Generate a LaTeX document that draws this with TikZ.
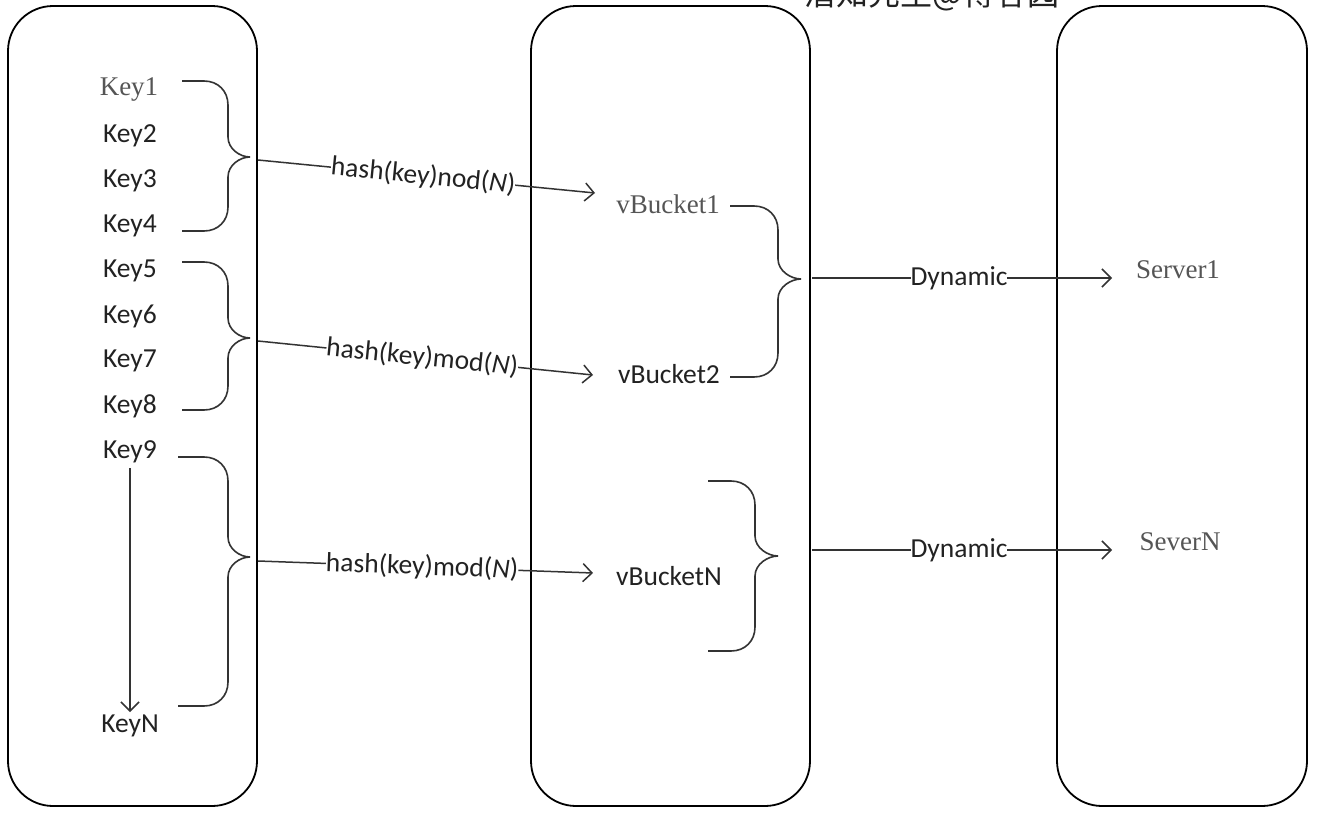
\documentclass[tikz,border=0pt]{standalone}
\usepackage{fontspec}
\setmainfont{Carlito}
\newfontfamily\seriffont{Liberation Serif}
\newfontfamily\cjkfont{Noto Sans CJK SC}
\usetikzlibrary{arrows.meta}
\definecolor{ink}{HTML}{222222}
\definecolor{soft}{HTML}{555555}
\definecolor{lineink}{HTML}{333333}
\tikzset{
  column/.style={draw=black, line width=1.8pt, rounded corners=45pt},
  sanslabel/.style={text=ink, font=\fontsize{27.5}{32}\selectfont, inner sep=1pt},
  seriflabel/.style={text=soft, font=\seriffont\fontsize{27}{31}\selectfont, inner sep=1pt},
  brace/.style={draw=lineink, line width=1.6pt},
  flow/.style={draw=lineink, line width=1.5pt, -{Straight Barb[length=9pt,width=18pt,line width=1.5pt]}},
  tag/.style={sanslabel, fill=white, inner sep=0pt},
}
\newcommand\bracket[6]{%
  \draw[brace] (#1,#4) -- (#2-24,#4) .. controls (#2-10,#4) and (#2,#4+10) .. (#2,#4+24)
   -- (#2,#5-20) .. controls (#2,#5-8) and (#3-10,#5) .. (#3,#5)
   .. controls (#3-10,#5) and (#2,#5+8) .. (#2,#5+20)
   -- (#2,#6-24) .. controls (#2,#6-10) and (#2-10,#6) .. (#2-24,#6) -- (#1,#6);}
\begin{document}
\begin{tikzpicture}[x=1pt,y=-1pt]
\useasboundingbox (0,0) rectangle (1320,814);
\clip (0,0) rectangle (1320,814);
\fill[white] (0,0) rectangle (1320,814);

% watermark (cut off at top, as in the reference)
\node[anchor=base, text=ink, font=\cjkfont\fontsize{32}{36}\selectfont, inner sep=0pt] (mark) at (932,5) {潜知先生@博客园};

% columns
\draw[column] (8,6) rectangle (257,806);
\draw[column] (531,6) rectangle (810,806);
\draw[column] (1057,6) rectangle (1307,806);

% keys
\node[seriflabel] (k1) at (129,89) {Key1};
\node[sanslabel] (k2) at (130,136) {Key2};
\node[sanslabel] (k3) at (130,181) {Key3};
\node[sanslabel] (k4) at (130,226) {Key4};
\node[sanslabel] (k5) at (130,271) {Key5};
\node[sanslabel] (k6) at (130,316) {Key6};
\node[sanslabel] (k7) at (130,361) {Key7};
\node[sanslabel] (k8) at (130,406) {Key8};
\node[sanslabel] (k9) at (130,452) {Key9};
\node[sanslabel] (kn) at (130,726) {KeyN};
\draw[flow] (k9.south) ++(0,4) coordinate (k9b) -- (130,712) coordinate (knt);

% buckets
\node[seriflabel] (b1) at (668,204) {vBucket1};
\node[sanslabel] (b2) at (669,374) {vBucket2};
\node[sanslabel] (bn) at (669,576) {vBucketN};

% servers
\node[seriflabel] (s1) at (1178,270) {Server1};
\node[seriflabel] (sn) at (1180,542) {SeverN};

% braces
\bracket{182}{228}{250}{81}{157}{231}
\bracket{182}{228}{250}{262}{338}{410}
\bracket{178}{228}{250}{457}{557}{706}
\bracket{730}{778}{801}{206}{279}{377}
\bracket{708}{755}{778}{481}{556}{651}

\coordinate (t1) at (258,160);
\coordinate (t2) at (258,341);
\coordinate (t3) at (258,561);
\coordinate (e1) at (595,193);
\coordinate (e2) at (593,375);
\coordinate (e3) at (593,573);
\coordinate (u1) at (812,278);
\coordinate (u2) at (812,550);
\coordinate (v1) at (1112,278);
\coordinate (v2) at (1112,550);

\draw[flow] (t1) -- node[tag, sloped, pos=0.49] {hash(key)nod(\textit{N})} (e1);
\draw[flow] (t2) -- node[tag, sloped, pos=0.49] {hash(key)mod(\textit{N})} (e2);
\draw[flow] (t3) -- node[tag, sloped, pos=0.49] {hash(key)mod(\textit{N})} (e3);
\draw[flow] (u1) -- node[tag, pos=0.49] {Dynamic} (v1);
\draw[flow] (u2) -- node[tag, pos=0.49] {Dynamic} (v2);
\end{tikzpicture}
\end{document}
